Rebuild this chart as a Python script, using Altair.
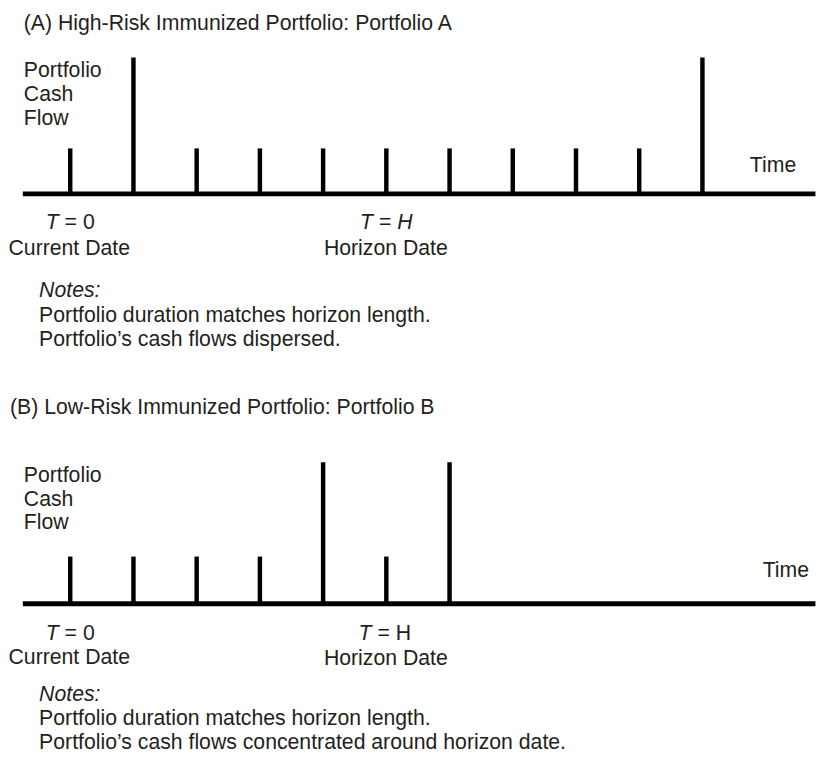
import altair as alt
import pandas as pd

# ---------------- data ----------------
times_a = [0, 1, 2, 3, 4, 5, 6, 7, 8, 9, 10]
cashflow_a = [1, 3, 1, 1, 1, 1, 1, 1, 1, 1, 3]

times_b = [0, 1, 2, 3, 4, 5, 6]
cashflow_b = [1, 1, 1, 1, 3, 1, 3]

title_a = "(A) High-Risk Immunized Portfolio: Portfolio A"
title_b = "(B) Low-Risk Immunized Portfolio: Portfolio B"
ylabel_lines = ["Portfolio", "Cash", "Flow"]
time_label = "Time"
current_label = "Current Date"
horizon_label = "Horizon Date"
notes_head = "Notes:"
notes_a = ["Portfolio duration matches horizon length.",
           "Portfolio\u2019s cash flows dispersed."]
notes_b = ["Portfolio duration matches horizon length.",
           "Portfolio\u2019s cash flows concentrated around horizon date."]
current_t = 0
horizon_t = 5

# ---------------- layout ----------------
FONT = "Liberation Sans"
FS = 21.5
K = FS / 21.0
TXT = "#231f20"
INK = "#000000"
MARGIN = 8
W = 818
X0, DX = 69, 64            # page x of t=0 and px per period
t_min = (MARGIN - X0) / DX
t_max = (MARGIN + W - X0) / DX
xs = alt.Scale(domain=[t_min, t_max], nice=False, zero=False)


class Panel:
    def __init__(self, top, height, base, unit):
        self.top, self.h, self.base, self.unit = top, height, base, unit
        vmax = (base - top) / unit
        vmin = vmax - height / unit
        self.ys = alt.Scale(domain=[vmin, vmax], nice=False, zero=False)

    def v(self, py):
        return (self.base - py) / self.unit


PA = Panel(MARGIN, 387, 190.5, 46.0)
PB = Panel(MARGIN + 387, 364, 605.5, 47.8)


def tx(px):
    return (px - X0) / DX


def text(p, s, t, py, align="left", style="normal", dx=0):
    df = pd.DataFrame({"t": [t], "v": [p.v(py)], "s": [s]})
    return alt.Chart(df).mark_text(
        align=align, baseline="alphabetic", font=FONT, fontSize=FS,
        fontStyle=style, color=TXT, dx=dx
    ).encode(
        x=alt.X("t:Q", scale=xs, axis=None),
        y=alt.Y("v:Q", scale=p.ys, axis=None),
        text="s:N",
    )


def panel(p, times, flows, title, title_x, title_y, ylab_y, time_x, time_y,
          tlabel_y, dlabel_y, hlabel_y, h_italic, h_dx, notes, notes_y):
    layers = []
    # baseline (time axis)
    ax = pd.DataFrame({"t0": [tx(21)], "t1": [t_max - 2.6 / DX], "v": [0]})
    layers.append(alt.Chart(ax).mark_rule(color=INK, strokeWidth=5, strokeCap="butt").encode(
        x=alt.X("t0:Q", scale=xs, axis=None), x2="t1:Q",
        y=alt.Y("v:Q", scale=p.ys, axis=None)))
    # cash flow spikes
    df = pd.DataFrame({"t": times, "cf": flows, "zero": [0] * len(times)})
    layers.append(alt.Chart(df).mark_rule(color=INK, strokeWidth=4.5, strokeCap="butt").encode(
        x=alt.X("t:Q", scale=xs, axis=None),
        y=alt.Y("cf:Q", scale=p.ys, axis=None), y2="zero:Q"))
    # title & labels
    layers.append(text(p, title, tx(title_x), title_y))
    for i, s in enumerate(ylabel_lines):
        layers.append(text(p, s, tx(22), ylab_y[i]))
    layers.append(text(p, time_label, tx(time_x), time_y))
    # T = 0
    layers.append(text(p, "T", current_t, tlabel_y, style="italic", dx=-24.2 * K))
    layers.append(text(p, "= 0", current_t, tlabel_y, dx=-5.55 * K))
    layers.append(text(p, current_label, current_t, dlabel_y, align="center", dx=-1))
    # T = H
    layers.append(text(p, "T", horizon_t, tlabel_y, style="italic", dx=-25.97 * K + h_dx))
    layers.append(text(p, "=", horizon_t, tlabel_y, dx=-7.3 * K + h_dx))
    layers.append(text(p, "H", horizon_t, tlabel_y, style="italic" if h_italic else "normal",
                       dx=10.8 * K + h_dx))
    layers.append(text(p, horizon_label, horizon_t, hlabel_y, align="center", dx=-0.5))
    # notes
    layers.append(text(p, notes_head, tx(37.5), notes_y[0], style="italic"))
    for i, s in enumerate(notes):
        layers.append(text(p, s, tx(37.5), notes_y[i + 1]))
    return alt.layer(*layers).properties(width=W, height=p.h)


chart_a = panel(PA, times_a, cashflow_a, title_a, 22, 24.5, [72.5, 96.5, 120.5], 757, 168,
                226, 252, 252, True, 0, notes_a, [295, 320, 344.5])
chart_b = panel(PB, times_b, cashflow_b, title_b, 8, 413, [482.5, 506.5, 530], 770, 578,
                642.5, 666, 667, False, -1.5, notes_b, [704, 728.5, 753])

chart = alt.vconcat(chart_a, chart_b, spacing=0).properties(padding=0).configure_view(stroke=None)

chart.save("out.html", embed_options={"renderer": "svg", "actions": False})
